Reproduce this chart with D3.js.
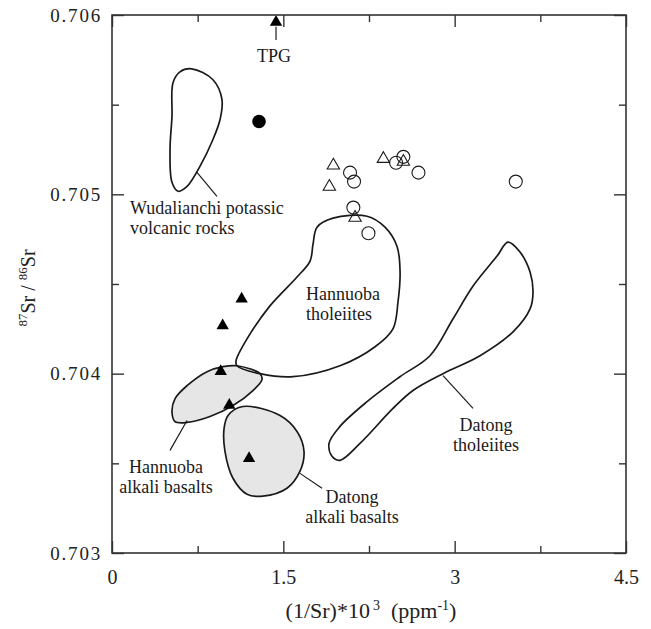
<!DOCTYPE html>
<html>
<head>
<meta charset="utf-8">
<script src="https://cdn.jsdelivr.net/npm/d3@7"></script>
<style>
  body { margin: 0; background: #fff; }
  svg { font-family: "Liberation Serif", "Times New Roman", serif; }
</style>
</head>
<body>
<svg id="svg" width="651" height="629"></svg>
<script>
// x: (1/Sr)*10^3, y: 87Sr/86Sr
var majorX = [0, 1.5, 3, 4.5];
var minorX = [0.75, 2.25, 3.75];
var majorY = [0.703, 0.704, 0.705, 0.706];
var minorY = [0.7035, 0.7045, 0.7055];

// this study, filled triangles
var filledTri = [[1.436, 0.70596], [1.135, 0.704417], [0.969, 0.704268], [0.952, 0.704013],
                 [1.027, 0.703824], [1.200, 0.703528]];
var filledCirc = [[1.287, 0.705406]];
var openTri = [[1.938, 0.705161], [1.903, 0.705043], [2.376, 0.705198], [2.551, 0.705182], [2.128, 0.704870]];
var openCirc = [[2.084, 0.705121], [2.119, 0.705071], [2.487, 0.705176], [2.551, 0.705209],
                [2.683, 0.705121], [3.535, 0.705071], [2.113, 0.704926], [2.245, 0.704783]];

// fields
var wudalianchi = [[0.698, 0.705700], [0.884, 0.705639], [0.963, 0.705528], [0.946, 0.705417],
  [0.884, 0.705306], [0.770, 0.705156], [0.657, 0.705044], [0.578, 0.705017], [0.525, 0.705067],
  [0.508, 0.705250], [0.525, 0.705433], [0.534, 0.705622], [0.595, 0.705683]];
var hanTholeiite = [[1.760, 0.704722], [1.795, 0.704817], [1.935, 0.704867], [2.233, 0.704878],
  [2.390, 0.704817], [2.495, 0.704711], [2.522, 0.704567], [2.504, 0.704400], [2.460, 0.704250],
  [2.303, 0.704150], [1.996, 0.704044], [1.585, 0.703983], [1.296, 0.704000], [1.094, 0.704044],
  [1.086, 0.704072], [1.182, 0.704194], [1.383, 0.704378], [1.620, 0.704539], [1.734, 0.704628]];
var hanAlkali = [[1.094, 0.704044], [1.296, 0.704000], [1.313, 0.703967], [1.234, 0.703906],
  [1.059, 0.703822], [0.858, 0.703761], [0.657, 0.703728], [0.552, 0.703733], [0.525, 0.703789],
  [0.552, 0.703861], [0.657, 0.703933], [0.832, 0.704011], [0.972, 0.704039]];
var datAlkali = [[1.147, 0.703817], [1.471, 0.703767], [1.620, 0.703678], [1.681, 0.703567],
  [1.646, 0.703456], [1.532, 0.703361], [1.322, 0.703317], [1.182, 0.703328], [1.059, 0.703417],
  [0.989, 0.703567], [0.981, 0.703694], [1.016, 0.703767]];
var datTholeiite = [[3.467, 0.704733], [3.572, 0.704678], [3.660, 0.704567], [3.686, 0.704456],
  [3.660, 0.704361], [3.511, 0.704233], [3.222, 0.704100], [2.898, 0.704000], [2.635, 0.703906],
  [2.460, 0.703806], [2.171, 0.703611], [1.996, 0.703517], [1.926, 0.703539], [1.900, 0.703611],
  [1.996, 0.703706], [2.233, 0.703844], [2.521, 0.703983], [2.784, 0.704100], [2.986, 0.704306],
  [3.161, 0.704489], [3.371, 0.704656]];

var labels = [
  {lines: ["TPG"], x: 1.418, y: 0.705739, anchor: "middle"},
  {lines: ["Wudalianchi potassic", "volcanic rocks"], x: 0.158, y: 0.704889, anchor: "start"},
  {lines: ["Hannuoba", "tholeiites"], x: 1.699, y: 0.704411, anchor: "start"},
  {lines: ["Hannuoba", "alkali basalts"], x: 0.473, y: 0.703444, anchor: "middle"},
  {lines: ["Datong", "alkali basalts"], x: 2.101, y: 0.703278, anchor: "middle"},
  {lines: ["Datong", "tholeiites"], x: 3.274, y: 0.703683, anchor: "middle"}
];
var leaders = [
  [[0.744, 0.705122], [0.919, 0.704989]],
  [[0.657, 0.703739], [0.508, 0.703572]],
  [[1.646, 0.703444], [1.839, 0.703361]],
  [[2.898, 0.703989], [3.161, 0.703806]],
  [[1.436, 0.705861], [1.436, 0.705935]]
];

var cont = d3.select("svg");
var x = d3.scaleLinear().domain([0, 4.5]).range([112, 626]);
var y = d3.scaleLinear().domain([0.703, 0.706]).range([553, 15]);
var ink = "#1a1a1a";

// fields
var shape = d3.line().x(function(d) { return x(d[0]); }).y(function(d) { return y(d[1]); })
  .curve(d3.curveCatmullRomClosed.alpha(0.5));
[[wudalianchi, "none"], [hanAlkali, "#e6e6e6"], [datAlkali, "#e6e6e6"],
 [hanTholeiite, "none"], [datTholeiite, "none"]].forEach(function(f) {
  cont.append("path")
    .attr("d", shape(f[0]))
    .attr("fill", f[1])
    .attr("stroke", ink)
    .attr("stroke-width", 1.7);
});

// leader lines
cont.selectAll("line.leader").data(leaders).enter().append("line")
  .attr("class", "leader")
  .attr("x1", function(d) { return x(d[0][0]); })
  .attr("y1", function(d) { return y(d[0][1]); })
  .attr("x2", function(d) { return x(d[1][0]); })
  .attr("y2", function(d) { return y(d[1][1]); })
  .attr("stroke", ink)
  .attr("stroke-width", 1.2);

// labels
labels.forEach(function(l) {
  var t = cont.append("text")
    .attr("x", x(l.x)).attr("y", y(l.y))
    .attr("text-anchor", l.anchor)
    .attr("font-size", 18)
    .attr("fill", ink);
  l.lines.forEach(function(s, i) {
    t.append("tspan").attr("x", x(l.x)).attr("dy", i == 0 ? 0 : 20).text(s);
  });
});

// points
var tri = d3.symbol().type(d3.symbolTriangle).size(66);
cont.selectAll("path.otri").data(openTri).enter().append("path")
  .attr("class", "otri")
  .attr("d", tri)
  .attr("transform", function(d) { return "translate(" + x(d[0]) + "," + y(d[1]) + ")"; })
  .attr("fill", "none").attr("stroke", ink).attr("stroke-width", 1.1);
cont.selectAll("circle.ocirc").data(openCirc).enter().append("circle")
  .attr("class", "ocirc")
  .attr("cx", function(d) { return x(d[0]); })
  .attr("cy", function(d) { return y(d[1]); })
  .attr("r", 6.5)
  .attr("fill", "none").attr("stroke", ink).attr("stroke-width", 1.1);
cont.selectAll("path.ftri").data(filledTri).enter().append("path")
  .attr("class", "ftri")
  .attr("d", tri)
  .attr("transform", function(d) { return "translate(" + x(d[0]) + "," + y(d[1]) + ")"; })
  .attr("fill", "#000");
cont.selectAll("circle.fcirc").data(filledCirc).enter().append("circle")
  .attr("class", "fcirc")
  .attr("cx", function(d) { return x(d[0]); })
  .attr("cy", function(d) { return y(d[1]); })
  .attr("r", 6.8)
  .attr("fill", "#000");

// axes, ticks pointing inward
function axisStyle(g) {
  g.select(".domain").remove();
  g.selectAll("line").attr("stroke", "#333").attr("stroke-width", 1.4);
  g.selectAll("text").attr("font-family", "Liberation Serif").attr("font-size", 20).attr("fill", "#222");
}
var fmt = function(d) { return d; };
cont.append("g").attr("transform", "translate(0,553)")
  .call(d3.axisBottom(x).tickValues(majorX).tickSize(-12).tickPadding(17).tickFormat(fmt)).call(axisStyle);
cont.append("g").attr("transform", "translate(0,553)")
  .call(d3.axisBottom(x).tickValues(minorX).tickSize(-7).tickFormat("")).call(axisStyle);
cont.append("g").attr("transform", "translate(0,15)")
  .call(d3.axisTop(x).tickValues(majorX).tickSize(-12).tickFormat("")).call(axisStyle);
cont.append("g").attr("transform", "translate(0,15)")
  .call(d3.axisTop(x).tickValues(minorX).tickSize(-7).tickFormat("")).call(axisStyle);
cont.append("g").attr("transform", "translate(112,0)")
  .call(d3.axisLeft(y).tickValues(majorY).tickSize(-12).tickPadding(10).tickFormat(d3.format(".3f")))
  .call(axisStyle)
  .selectAll("text").attr("font-size", 19).attr("letter-spacing", 1.8);
cont.append("g").attr("transform", "translate(112,0)")
  .call(d3.axisLeft(y).tickValues(minorY).tickSize(-7).tickFormat("")).call(axisStyle);
cont.append("g").attr("transform", "translate(626,0)")
  .call(d3.axisRight(y).tickValues(majorY).tickSize(-12).tickFormat("")).call(axisStyle);
cont.append("g").attr("transform", "translate(626,0)")
  .call(d3.axisRight(y).tickValues(minorY).tickSize(-7).tickFormat("")).call(axisStyle);

cont.append("rect")
  .attr("x", 112).attr("y", 15).attr("width", 514).attr("height", 538)
  .attr("fill", "none").attr("stroke", "#333").attr("stroke-width", 1.6);

// axis titles
var xt = cont.append("text").attr("x", 371).attr("y", 618)
  .attr("text-anchor", "middle").attr("font-size", 22).attr("fill", "#222");
xt.append("tspan").text("(1/Sr)*10");
xt.append("tspan").attr("font-size", 14).attr("dx", 3).attr("dy", -8).text("3");
xt.append("tspan").attr("dy", 8).text("\u00a0\u00a0(ppm");
xt.append("tspan").attr("font-size", 14).attr("dy", -8).text("-1");
xt.append("tspan").attr("dy", 8).text(")");

var yt = cont.append("text").attr("transform", "translate(35,288) rotate(-90)")
  .attr("text-anchor", "middle").attr("font-size", 20).attr("fill", "#222");
yt.append("tspan").attr("font-size", 13).attr("dy", -8).text("87");
yt.append("tspan").attr("dy", 8).text("Sr / ");
yt.append("tspan").attr("font-size", 13).attr("dy", -8).text("86");
yt.append("tspan").attr("dy", 8).text("Sr");
</script>
</body>
</html>
